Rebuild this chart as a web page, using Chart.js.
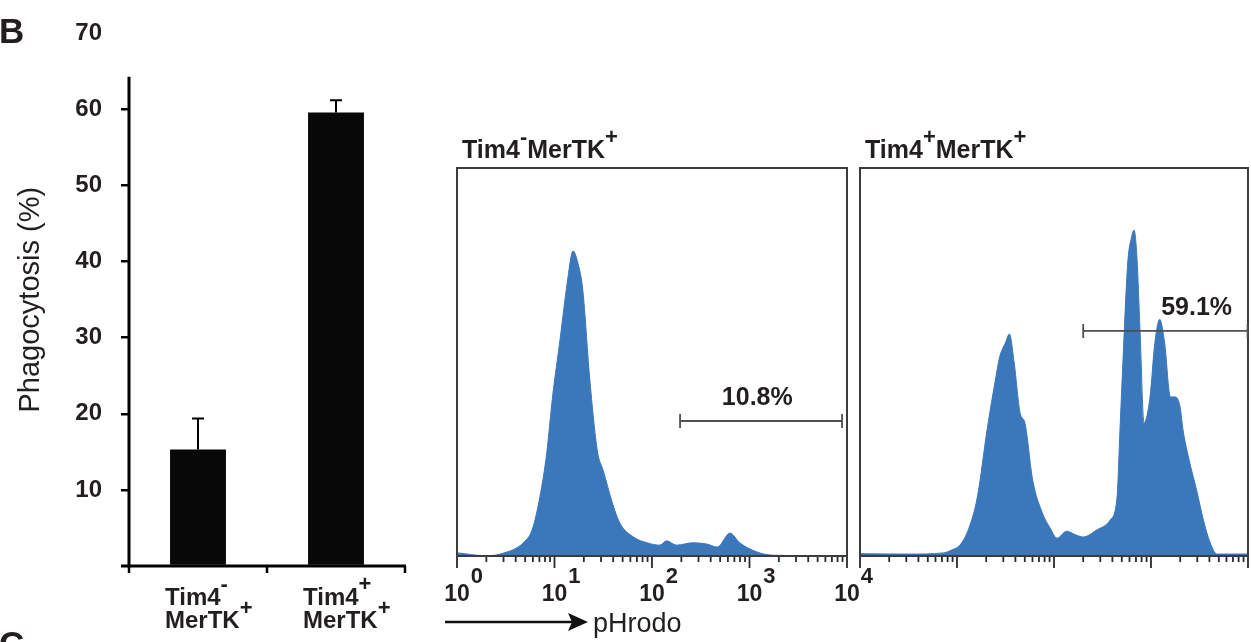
<!DOCTYPE html>
<html><head><meta charset="utf-8">
<script src="https://cdn.jsdelivr.net/npm/chart.js@4.4.0/dist/chart.umd.min.js"></script>
<style>
html,body{margin:0;padding:0;background:#fff;width:1251px;height:642px;overflow:hidden;position:relative;}
canvas{position:absolute;}
</style></head><body>
<canvas id="bar" width="420" height="642" style="left:0;top:0;width:420px;height:642px"></canvas>
<canvas id="histA" width="445" height="522" style="left:440px;top:120px;width:445px;height:522px"></canvas>
<canvas id="histB" width="399" height="522" style="left:852px;top:120px;width:399px;height:522px"></canvas>
<script>
// ---------- DATA ----------
const barCategories = ['Tim4- MerTK+', 'Tim4+ MerTK+'];
const barLabelLines = [
  [[['Tim4',0],['-',1]], [['MerTK',0],['+',1]]],
  [[['Tim4',0],['+',1]], [['MerTK',0],['+',1]]]
];
const phagocytosisMean = [15.3, 59.6];
const phagocytosisErrTop = [19.4, 61.2];
const yTickValues = [0, 10, 20, 30, 40, 50, 60, 70];
const yAxisLineTop = 64.3;

// pHrodo histograms: x = log10 intensity, y = % of max frame height
const histNegLog = [0.00,0.08,0.20,0.34,0.51,0.62,0.68,0.77,0.85,0.92,0.98,1.06,1.13,1.19,1.24,1.29,1.36,1.44,1.50,1.59,1.67,1.81,1.95,2.08,2.15,2.25,2.42,2.56,2.67,2.80,2.90,3.08,3.24,3.60,4.00];
const histNegCount = [0.8,0.6,0.2,0.1,1.0,2.2,3.4,6.7,15.2,26.5,41,56.4,70.3,78.6,75.5,68.6,46.1,27,22,14,8.5,4.9,3.4,2.8,3.9,2.8,3.4,3.1,2.3,5.9,3.4,1.0,0.2,0.1,0.1];
const histPosLog = [0.00,0.50,0.86,0.95,1.03,1.12,1.21,1.31,1.40,1.44,1.50,1.54,1.59,1.65,1.70,1.78,1.88,1.96,2.03,2.13,2.22,2.30,2.44,2.58,2.65,2.68,2.71,2.76,2.80,2.825,2.855,2.887,2.928,2.99,3.04,3.09,3.14,3.20,3.25,3.30,3.33,3.40,3.47,3.54,3.61,3.68,3.80,4.00];
const histPosCount = [0.6,0.5,0.8,1.6,2.8,7,15.2,32.5,46,51.3,55,57.2,49.7,36.9,34.3,19.6,11.1,7.2,4.6,6.4,5.5,4.9,6.7,9.3,15.2,32.5,49.7,75.5,82.2,84,77,58,34.3,41,55,61,55,41,41,38.4,32.5,24,17,9.3,3.4,0.5,0.5,0.5];
const gateNeg = [194, 8900], gateNegLevel = 34.8, gateNegLabel = '10.8%';
const gatePos = [200, 9900], gatePosLevel = 58.0, gatePosLabel = '59.1%';
const decadeTicks = [1, 10, 100, 1000, 10000];
const decadeExp = ['0', '1', '2', '3', '4'];
const titleNeg = [['Tim4',0],['-',1],['MerTK',0],['+',1]];
const titlePos = [['Tim4',0],['+',1],['MerTK',0],['+',1]];

// ---------- HELPERS ----------
const FAM = '"Liberation Sans", Arial, Helvetica, sans-serif';
const TXT = '#231f20';
const BLUE = '#3a77bb';
function drawRich(ctx, parts, x, y, font, supFont, rise, align) {
  let w = 0;
  for (const [t, s] of parts) { ctx.font = s ? supFont : font; w += ctx.measureText(t).width; }
  let cx = align === 'center' ? x - w / 2 : (align === 'right' ? x - w : x);
  ctx.textAlign = 'left'; ctx.textBaseline = 'alphabetic';
  for (const [t, s] of parts) {
    ctx.font = s ? supFont : font;
    ctx.fillText(t, cx, s ? y - rise : y);
    cx += ctx.measureText(t).width;
  }
}

// ---------- BAR CHART ----------
const barDecor = {
  id: 'barDecor',
  afterDatasetsDraw(chart) {
    const ctx = chart.ctx, y = chart.scales.y, x = chart.scales.x, a = chart.chartArea;
    const y0 = y.getPixelForValue(0);
    ctx.save();
    ctx.strokeStyle = '#000'; ctx.lineCap = 'butt';
    ctx.lineWidth = 3;
    ctx.beginPath(); ctx.moveTo(a.left, y0 + 1.5); ctx.lineTo(a.left, y.getPixelForValue(yAxisLineTop)); ctx.stroke();
    ctx.beginPath(); ctx.moveTo(a.left - 8, y0); ctx.lineTo(a.right + 1, y0); ctx.stroke();
    ctx.lineWidth = 2.5;
    [-0.5, 0.5, 1.5].forEach(v => {
      const px = x.getPixelForValue(v);
      ctx.beginPath(); ctx.moveTo(px, y0); ctx.lineTo(px, y0 + 7); ctx.stroke();
    });
    const meta = chart.getDatasetMeta(0);
    ctx.lineWidth = 2;
    meta.data.forEach((bar, i) => {
      const yt = y.getPixelForValue(phagocytosisErrTop[i]);
      ctx.beginPath(); ctx.moveTo(bar.x, bar.y); ctx.lineTo(bar.x, yt);
      ctx.moveTo(bar.x - 6, yt); ctx.lineTo(bar.x + 6, yt); ctx.stroke();
    });
    ctx.fillStyle = TXT;
    barLabelLines.forEach((lines, i) => {
      const px = x.getPixelForValue(i) - 33;
      drawRich(ctx, lines[0], px, y0 + 39, 'bold 24px ' + FAM, 'bold 22px ' + FAM, 14, 'left');
      drawRich(ctx, lines[1], px, y0 + 62, 'bold 24px ' + FAM, 'bold 22px ' + FAM, 13, 'left');
    });
    ctx.font = 'bold 35px ' + FAM; ctx.textAlign = 'left'; ctx.textBaseline = 'alphabetic';
    ctx.fillText('B', -1, 43);
    ctx.fillText('C', -1, 656);
    ctx.restore();
  }
};

new Chart(document.getElementById('bar'), {
  type: 'bar',
  data: { labels: barCategories, datasets: [{ data: phagocytosisMean, backgroundColor: '#080808', borderWidth: 0, barPercentage: 0.405, categoryPercentage: 1 }] },
  options: {
    responsive: false, animation: false, events: [],
    layout: { padding: { left: 0, right: 15, top: 32, bottom: 0 } },
    plugins: { legend: { display: false }, tooltip: { enabled: false } },
    scales: {
      x: { grid: { display: false }, border: { display: false }, ticks: { display: false }, afterFit(s) { s.height = 76; } },
      y: {
        min: 0, max: 70,
        afterBuildTicks(s) { s.ticks = yTickValues.map(v => ({ value: v })); },
        ticks: { callback: v => v === 0 ? '' : String(v), font: { family: FAM, size: 24, weight: 'bold' }, color: TXT, padding: 19 },
        grid: { drawOnChartArea: false, drawTicks: true, tickLength: 8, lineWidth: 2.5,
                color: c => (c.tick && (c.tick.value === 70 || c.tick.value === 0)) ? 'rgba(0,0,0,0)' : '#000' },
        border: { display: false },
        title: { display: true, text: 'Phagocytosis (%)', font: { family: FAM, size: 29 }, color: TXT, padding: { top: 14, bottom: 0 } },
        afterFit(s) { s.width = 129; }
      }
    }
  },
  plugins: [barDecor]
});

// ---------- HISTOGRAMS ----------
function makeHist(id, logs, counts, gate, gateLevel, gateLabel, labelLog, title, showAxisLabels, pad) {
  const decor = {
    id: 'histDecor' + id,
    afterDatasetsDraw(chart) {
      const ctx = chart.ctx, x = chart.scales.x, y = chart.scales.y, a = chart.chartArea;
      ctx.save();
      ctx.strokeStyle = '#3c3c3c'; ctx.lineWidth = 2;
      ctx.strokeRect(a.left, a.top, a.right - a.left, a.bottom - a.top);
      ctx.strokeStyle = '#2a2a2a'; ctx.lineWidth = 1.8;
      const yb = a.bottom + 1;
      for (let d = 0; d < 4; d++) {
        for (let m = 1; m <= 9; m++) {
          const px = x.getPixelForValue(m * Math.pow(10, d));
          ctx.beginPath(); ctx.moveTo(px, yb); ctx.lineTo(px, yb + (m === 1 ? 11 : 5)); ctx.stroke();
        }
      }
      const pe = x.getPixelForValue(10000);
      ctx.beginPath(); ctx.moveTo(pe, yb); ctx.lineTo(pe, yb + 11); ctx.stroke();
      ctx.fillStyle = TXT;
      if (showAxisLabels) {
        decadeTicks.forEach((v, i) => {
          const px = x.getPixelForValue(v);
          ctx.font = 'bold 23px ' + FAM; ctx.textAlign = 'center'; ctx.textBaseline = 'alphabetic';
          ctx.fillText('10', px, a.bottom + 45);
          const w = ctx.measureText('10').width;
          ctx.font = 'bold 22px ' + FAM; ctx.textAlign = 'left';
          ctx.fillText(decadeExp[i], px + w / 2 + 1, a.bottom + 27);
        });
        const ay = a.bottom + 66;
        ctx.strokeStyle = '#111'; ctx.lineWidth = 2.5; ctx.fillStyle = '#111';
        ctx.beginPath(); ctx.moveTo(a.left - 12, ay); ctx.lineTo(a.left + 118, ay); ctx.stroke();
        ctx.beginPath(); ctx.moveTo(a.left + 131, ay); ctx.lineTo(a.left + 111, ay - 9); ctx.lineTo(a.left + 115, ay); ctx.lineTo(a.left + 111, ay + 9); ctx.closePath(); ctx.fill();
        ctx.fillStyle = TXT;
        ctx.font = '27px ' + FAM; ctx.textAlign = 'left';
        ctx.fillText('pHrodo', a.left + 136, a.bottom + 76);
      }
      const gy = y.getPixelForValue(gateLevel);
      const gx1 = x.getPixelForValue(gate[0]), gx2 = x.getPixelForValue(gate[1]);
      ctx.strokeStyle = '#505050'; ctx.lineWidth = 1.8;
      ctx.beginPath();
      ctx.moveTo(gx1, gy); ctx.lineTo(gx2, gy);
      ctx.moveTo(gx1, gy - 7); ctx.lineTo(gx1, gy + 7);
      ctx.moveTo(gx2, gy - 7); ctx.lineTo(gx2, gy + 7);
      ctx.stroke();
      ctx.fillStyle = TXT;
      ctx.font = 'bold 25px ' + FAM; ctx.textAlign = 'center'; ctx.textBaseline = 'alphabetic';
      ctx.fillText(gateLabel, x.getPixelForValue(Math.pow(10, labelLog)), gy - 16);
      drawRich(ctx, title, a.left + 5, a.top - 10, 'bold 25px ' + FAM, 'bold 22px ' + FAM, 14, 'left');
      ctx.restore();
    }
  };
  return new Chart(document.getElementById(id), {
    type: 'line',
    data: { datasets: [{ data: logs.map((e, i) => ({ x: Math.pow(10, e), y: counts[i] })), borderColor: BLUE, backgroundColor: BLUE, borderWidth: 1, pointRadius: 0, fill: 'origin', cubicInterpolationMode: 'monotone' }] },
    options: {
      responsive: false, animation: false, events: [],
      layout: { padding: pad },
      plugins: { legend: { display: false }, tooltip: { enabled: false } },
      scales: {
        x: { type: 'logarithmic', min: 1, max: 10000, display: false },
        y: { type: 'linear', min: 0, max: 100, display: false }
      }
    },
    plugins: [decor]
  });
}
makeHist('histA', histNegLog, histNegCount, gateNeg, gateNegLevel, gateNegLabel, 3.08, titleNeg, true, { left: 17, right: 38, top: 48, bottom: 86 });
makeHist('histB', histPosLog, histPosCount, gatePos, gatePosLevel, gatePosLabel, 3.47, titlePos, false, { left: 8, right: 3, top: 48, bottom: 86 });
</script>
</body></html>
